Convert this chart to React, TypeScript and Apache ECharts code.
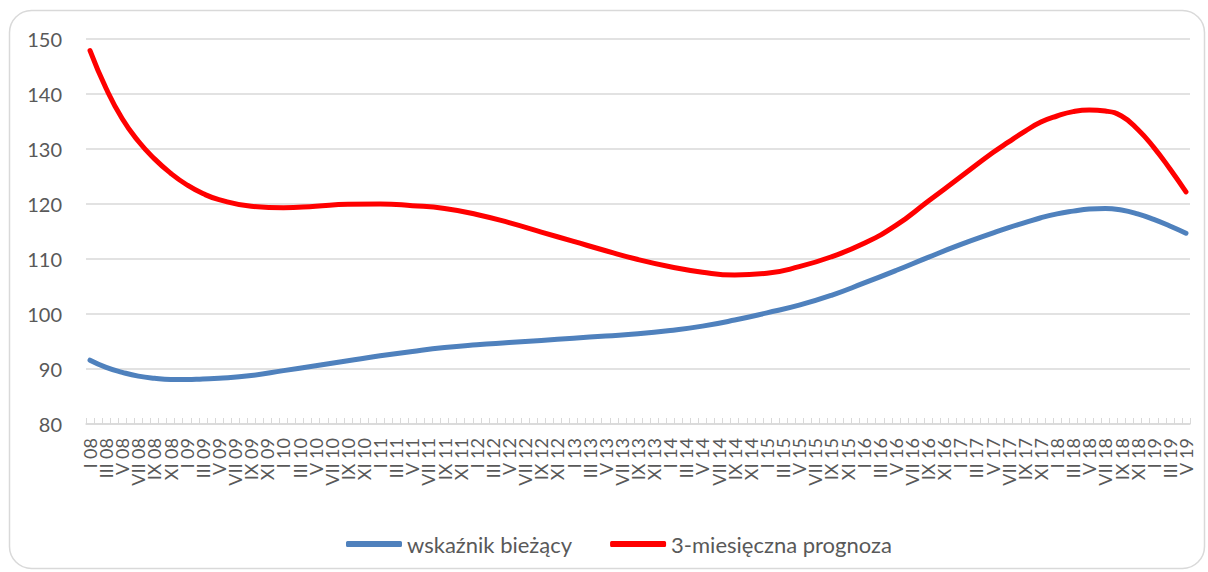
import React, { useEffect, useRef } from "react";
import * as echarts from "echarts";

const monthNames = ["I", "II", "III", "IV", "V", "VI", "VII", "VIII", "IX", "X", "XI", "XII"];
const years = ["08", "09", "10", "11", "12", "13", "14", "15", "16", "17", "18", "19"];
const lastYearMonths = 5;

// every month from I 08 to V 19 (axis categories)
const categories: string[] = [];
years.forEach((y, yi) => {
  const count = yi === years.length - 1 ? lastYearMonths : 12;
  for (let m = 0; m < count; m++) categories.push(`${monthNames[m]} ${y}`);
});

const seriesNames = ["wskaźnik bieżący", "3-miesięczna prognoza"];

const readMonths = [
  "I 08", "III 08", "V 08", "VII 08", "IX 08", "XI 08", "I 09", "III 09", "V 09", "IX 09",
  "I 10", "V 10", "IX 10", "I 11", "V 11", "IX 11", "I 12", "V 12", "IX 12",
  "I 13", "V 13", "IX 13", "I 14", "V 14", "IX 14", "I 15", "V 15", "IX 15",
  "I 16", "V 16", "IX 16", "I 17", "V 17", "VII 17", "IX 17", "XI 17",
  "I 18", "III 18", "V 18", "VII 18", "IX 18", "XI 18", "I 19", "III 19", "V 19",
];

const currentIndex = [
  91.6, 90.3, 89.4, 88.7, 88.3, 88.1, 88.1, 88.2, 88.3, 88.8,
  89.7, 90.6, 91.5, 92.4, 93.2, 93.9, 94.4, 94.8, 95.2,
  95.6, 96.0, 96.4, 97.0, 97.8, 98.9, 100.2, 101.6, 103.4,
  105.6, 107.9, 110.3, 112.6, 114.7, 115.7, 116.6, 117.5,
  118.2, 118.7, 119.1, 119.2, 118.9, 118.2, 117.2, 116.0, 114.7,
];

const forecast3m = [
  147.9, 141.0, 135.5, 131.4, 128.2, 125.6, 123.5, 121.9, 120.8, 119.6,
  119.3, 119.6, 119.95, 120.0, 119.7, 119.2, 118.1, 116.6, 114.9,
  113.2, 111.5, 109.9, 108.6, 107.6, 107.1, 107.4, 108.6, 110.4,
  112.8, 116.1, 120.5, 124.9, 129.3, 131.3, 133.2, 134.9,
  136.0, 136.8, 137.1, 136.9, 136.0, 133.6, 130.3, 126.4, 122.2,
];

const FONT = "Lato, 'Open Sans', sans-serif";

const labelStyle = {
  rotate: 90,
  margin: 14,
  hideOverlap: false,
  fontFamily: FONT,
  fontSize: 18,
  color: "#595959",
};

export default function App() {
  const ref = useRef<HTMLDivElement>(null);
  useEffect(() => {
    if (!ref.current) return;
    const chart = echarts.init(ref.current, undefined, { renderer: "svg" });
    chart.setOption({
      animation: false,
      backgroundColor: "#ffffff",
      graphic: [
        {
          type: "rect",
          shape: { x: 9.5, y: 10.5, width: 1195, height: 558, r: 22 },
          style: { fill: "none", stroke: "#d9d9d9", lineWidth: 1.5 },
          silent: true,
        },
      ],
      grid: { left: 86, right: 18, top: 39, bottom: 148 },
      legend: {
        left: 341,
        top: 528,
        itemWidth: 56,
        itemHeight: 6,
        itemGap: 38,
        icon: "roundRect",
        textStyle: { fontFamily: FONT, fontSize: 22, color: "#595959" },
        data: seriesNames,
      },
      xAxis: [
        {
          type: "category",
          data: categories,
          boundaryGap: true,
          position: "bottom",
          axisLine: { lineStyle: { color: "#d9d9d9", width: 1.5 } },
          axisTick: { show: true, inside: true, length: 6, interval: 0, lineStyle: { color: "#d9d9d9", width: 1 } },
          axisLabel: {
            ...labelStyle,
            interval: (i: number) => i % 4 === 0,
            showMinLabel: true,
            showMaxLabel: true,
          },
          splitLine: { show: false },
        },
        {
          type: "category",
          data: categories,
          boundaryGap: true,
          position: "bottom",
          offset: 0,
          axisLine: { show: false },
          axisTick: { show: false },
          axisLabel: {
            ...labelStyle,
            interval: (i: number) => i % 4 === 2,
          },
          splitLine: { show: false },
        },
      ],
      yAxis: {
        type: "value",
        min: 80,
        max: 150,
        interval: 10,
        axisLine: { show: false },
        axisTick: { show: false },
        axisLabel: { margin: 24, fontFamily: FONT, fontSize: 20, color: "#595959" },
        splitLine: { lineStyle: { color: "#d9d9d9", width: 1.5 } },
      },
      series: [
        {
          name: seriesNames[0],
          type: "line",
          xAxisIndex: 0,
          data: readMonths.map((m, k) => [m, currentIndex[k]]),
          smooth: 0.5,
          showSymbol: false,
          lineStyle: { color: "#4f81bd", width: 5, cap: "round" },
          itemStyle: { color: "#4f81bd" },
        },
        {
          name: seriesNames[1],
          type: "line",
          xAxisIndex: 0,
          data: readMonths.map((m, k) => [m, forecast3m[k]]),
          smooth: 0.5,
          showSymbol: false,
          lineStyle: { color: "#ff0000", width: 5, cap: "round" },
          itemStyle: { color: "#ff0000" },
        },
      ],
    });
    return () => chart.dispose();
  }, []);
  return (
    <div
      ref={ref}
      style={{ position: "fixed", left: 0, top: 0, width: 1208, height: 572 }}
    />
  );
}
